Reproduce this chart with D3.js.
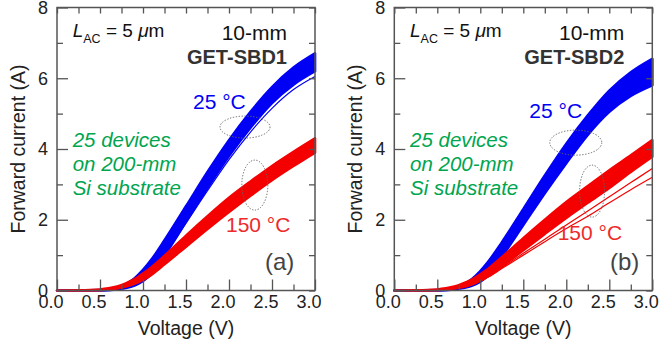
<!DOCTYPE html>
<html>
<head>
<meta charset="utf-8">
<script src="https://cdn.jsdelivr.net/npm/d3@7"></script>
<style>
  body { margin: 0; background: #fff; }
  svg { font-family: "Liberation Sans", Arial, sans-serif; }
</style>
</head>
<body>
<svg id="chart" width="659" height="347"></svg>
<script>
// voltage grid (V)
const voltage = [0, 0.25, 0.5, 0.6, 0.7, 0.8, 0.9, 1.0, 1.1, 1.25, 1.5, 1.75, 2.0, 2.25, 2.5, 2.75, 3.0];

// (a) GET-SBD1, envelope of the 25 devices (A)
const sbd1BlueHi = [0, 0, 0.01, 0.03, 0.08, 0.18, 0.34, 0.58, 0.88, 1.42, 2.38, 3.35, 4.25, 5.05, 5.75, 6.3, 6.7];
const sbd1BlueLo = [0, 0, 0, 0.01, 0.03, 0.07, 0.14, 0.27, 0.48, 1.0, 1.95, 2.9, 3.8, 4.6, 5.3, 5.82, 6.2];
const sbd1BlueOut = [0, 0, 0, 0.01, 0.03, 0.07, 0.14, 0.26, 0.46, 0.96, 1.9, 2.82, 3.7, 4.48, 5.15, 5.68, 6.05];
const sbd1RedHi = [0, 0.005, 0.03, 0.06, 0.11, 0.2, 0.32, 0.48, 0.66, 0.98, 1.55, 2.1, 2.62, 3.08, 3.52, 3.92, 4.3];
const sbd1RedLo = [0, 0, 0.01, 0.03, 0.06, 0.11, 0.19, 0.3, 0.45, 0.74, 1.24, 1.74, 2.22, 2.68, 3.12, 3.52, 3.9];

// (b) GET-SBD2
const sbd2BlueHi = [0, 0, 0.01, 0.03, 0.08, 0.17, 0.32, 0.55, 0.84, 1.36, 2.3, 3.25, 4.15, 4.95, 5.65, 6.17, 6.55];
const sbd2BlueLo = [0, 0, 0, 0.01, 0.03, 0.07, 0.13, 0.25, 0.44, 0.95, 1.85, 2.75, 3.6, 4.4, 5.05, 5.5, 5.8];
const sbd2RedHi = [0, 0.005, 0.03, 0.06, 0.11, 0.2, 0.31, 0.46, 0.63, 0.94, 1.48, 2.0, 2.5, 2.95, 3.4, 3.82, 4.25];
const sbd2RedLo = [0, 0, 0.01, 0.03, 0.06, 0.1, 0.17, 0.28, 0.42, 0.68, 1.14, 1.6, 2.05, 2.48, 2.9, 3.35, 3.78];
const sbd2RedOut1 = [0, 0, 0.01, 0.03, 0.06, 0.1, 0.17, 0.27, 0.4, 0.64, 1.05, 1.45, 1.85, 2.25, 2.65, 3.05, 3.45];
const sbd2RedOut2 = [0, 0, 0.01, 0.03, 0.06, 0.1, 0.17, 0.27, 0.39, 0.62, 1.0, 1.38, 1.75, 2.1, 2.48, 2.85, 3.2];

const xMajor = [0, 0.5, 1.0, 1.5, 2.0, 2.5, 3.0];
const xMinor = [0.25, 0.75, 1.25, 1.75, 2.25, 2.75];
const yMajor = [0, 2, 4, 6, 8];
const yMinor = [1, 3, 5, 7];

const BLUE = '#0000f5';
const RED = '#f50000';
const GREEN = '#00a550';
const AXIS = '#555';

const svg = d3.select('#chart');
const plotTop = 7.5, plotW = 258, plotH = 283;

const x = d3.scaleLinear().domain([0, 3]).range([0, plotW]);
const y = d3.scaleLinear().domain([0, 8]).range([plotH, 0]);

function band(g, hi, lo, col) {
    const data = voltage.map((v, i) => ({ v, hi: hi[i], lo: lo[i] }));
    const area = d3.area()
        .x(d => x(d.v)).y0(d => y(d.lo)).y1(d => y(d.hi))
        .curve(d3.curveMonotoneX);
    g.append('path').attr('d', area(data))
        .attr('fill', col).attr('stroke', col).attr('stroke-width', 2.6)
        .attr('stroke-linejoin', 'round');
}

function line(g, vals, col) {
    const l = d3.line().x((d, i) => x(voltage[i])).y(d => y(d)).curve(d3.curveMonotoneX);
    g.append('path').attr('d', l(vals))
        .attr('fill', 'none').attr('stroke', col).attr('stroke-width', 1.2);
}

function drawPanel(cfg) {
    const g = svg.append('g').attr('transform', `translate(${cfg.left},${plotTop})`);

    // curves
    const curves = g.append('g');
    band(curves, cfg.blueHi, cfg.blueLo, BLUE);
    cfg.blueOut.forEach(o => line(curves, o, BLUE));
    band(curves, cfg.redHi, cfg.redLo, RED);
    cfg.redOut.forEach(o => line(curves, o, RED));

    // axes
    const bottom = g.append('g').attr('transform', `translate(0,${plotH})`)
        .call(d3.axisBottom(x).tickValues(xMajor).tickSize(-11).tickPadding(5).tickFormat(d3.format('.1f')));
    bottom.selectAll('.tick text').attr('dx', -6.5);
    g.append('g').attr('transform', `translate(0,${plotH})`)
        .call(d3.axisBottom(x).tickValues(xMinor).tickSize(-6).tickFormat(''));
    g.append('g').call(d3.axisTop(x).tickValues(xMajor.concat(xMinor)).tickSize(-6).tickFormat(''));
    g.append('g')
        .call(d3.axisLeft(y).tickValues(yMajor).tickSize(-11).tickPadding(9).tickFormat(d3.format('d')));
    g.append('g').call(d3.axisLeft(y).tickValues(yMinor).tickSize(-6).tickFormat(''));
    g.append('g').attr('transform', `translate(${plotW},0)`)
        .call(d3.axisRight(y).tickValues(yMajor.concat(yMinor)).tickSize(-6).tickFormat(''));

    g.selectAll('.domain').remove();
    g.selectAll('.tick line').attr('stroke', AXIS).attr('stroke-width', 1.3);
    g.selectAll('.tick text').attr('fill', '#222').style('font-size', '18px')
        .style('font-family', '"Liberation Sans", Arial, sans-serif');

    g.append('rect').attr('width', plotW).attr('height', plotH)
        .attr('fill', 'none').attr('stroke', AXIS).attr('stroke-width', 1.5);

    // axis titles
    g.append('text').attr('x', plotW / 2).attr('y', 334.5 - plotTop)
        .attr('text-anchor', 'middle').attr('fill', '#222').style('font-size', '19.5px')
        .text('Voltage (V)');
    g.append('text')
        .attr('transform', `translate(${cfg.yTitleX - cfg.left},${plotH / 2}) rotate(-90)`)
        .attr('text-anchor', 'middle').attr('dy', '0.35em').attr('fill', '#222').style('font-size', '19.5px')
        .text('Forward current (A)');

    // annotations
    const lac = g.append('text').attr('x', 15.7).attr('y', 36.7 - plotTop).attr('fill', '#111').style('font-size', '19px');
    lac.append('tspan').style('font-style', 'italic').text('L');
    lac.append('tspan').attr('dy', 6).style('font-size', '12.5px').text('AC');
    lac.append('tspan').attr('dy', -6).text(' = 5 ');
    lac.append('tspan').style('font-style', 'italic').text('\u03bc');
    lac.append('tspan').text('m');

    g.append('text').attr('x', plotW - 28).attr('y', 39.5 - plotTop).attr('text-anchor', 'end')
        .attr('fill', '#111').style('font-size', '21px').text('10-mm');
    g.append('text').attr('x', plotW - 28).attr('y', 63.5 - plotTop).attr('text-anchor', 'end')
        .attr('fill', '#333').style('font-size', '20px').style('font-weight', 'bold').text(cfg.name);

    ['25 devices', 'on 200-mm', 'Si substrate'].forEach((t, i) => {
        g.append('text').attr('x', 15.7).attr('y', 147 - plotTop + i * 24)
            .attr('fill', GREEN).style('font-size', '20.5px').style('font-style', 'italic').text(t);
    });

    g.append('text').attr('x', cfg.blueLabel[0]).attr('y', cfg.blueLabel[1] - plotTop)
        .attr('fill', BLUE).style('font-size', '21px').text('25 \u00b0C');
    g.append('text').attr('x', cfg.redLabel[0]).attr('y', cfg.redLabel[1] - plotTop)
        .attr('fill', '#ee2b2b').style('font-size', '21px').text('150 \u00b0C');
    g.append('text').attr('x', cfg.tag[0]).attr('y', cfg.tag[1] - plotTop)
        .attr('fill', '#444').style('font-size', '24px').text(cfg.tagText);

    cfg.ellipses.forEach(e => {
        g.append('ellipse').attr('cx', x(e[0])).attr('cy', y(e[1]))
            .attr('rx', e[2]).attr('ry', e[3])
            .attr('fill', 'none').attr('stroke', '#666').attr('stroke-width', 1)
            .attr('stroke-dasharray', '1.3,1.6');
    });
}

drawPanel({
    left: 57, yTitleX: 18, name: 'GET-SBD1', tagText: '(a)',
    blueHi: sbd1BlueHi, blueLo: sbd1BlueLo, blueOut: [sbd1BlueOut],
    redHi: sbd1RedHi, redLo: sbd1RedLo, redOut: [],
    blueLabel: [136, 109], redLabel: [169, 232], tag: [208, 270],
    ellipses: [[2.186, 4.62, 25, 11], [2.30, 2.98, 13, 25]]
});

drawPanel({
    left: 394.3, yTitleX: 355, name: 'GET-SBD2', tagText: '(b)',
    blueHi: sbd2BlueHi, blueLo: sbd2BlueLo, blueOut: [],
    redHi: sbd2RedHi, redLo: sbd2RedLo, redOut: [sbd2RedOut1, sbd2RedOut2],
    blueLabel: [135, 118], redLabel: [163.4, 240], tag: [215.7, 270],
    ellipses: [[2.11, 4.18, 26, 12.5], [2.30, 2.81, 12.5, 26]]
});
</script>
</body>
</html>
